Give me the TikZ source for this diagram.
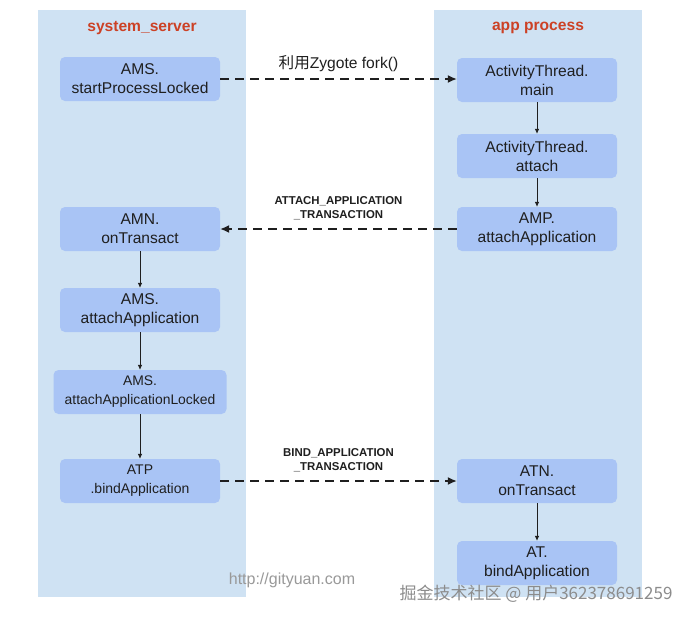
\documentclass[tikz,border=0pt]{standalone}
\usepackage{fontspec}
\setmainfont{Liberation Sans}
\newfontfamily\cjk{Noto Sans CJK SC}
\usetikzlibrary{arrows.meta}
\definecolor{lane}{HTML}{CFE2F3}
\definecolor{callbox}{HTML}{A9C4F5}
\definecolor{lanetitle}{HTML}{CC4125}
\definecolor{inktext}{HTML}{1F1F1F}

\begin{document}
\begin{tikzpicture}[
  x=1pt, y=-1pt,
  font=\fontsize{15.6}{19}\selectfont,
  call/.style={fill=callbox, rounded corners=5pt, minimum width=160pt, minimum height=44pt, align=center, text=inktext, inner sep=2pt},
  title/.style={text=lanetitle, font=\fontsize{15.6}{18}\selectfont\bfseries},
  msg/.style={font=\fontsize{11.4}{14}\selectfont\bfseries, align=center, text=inktext},
  every edge/.style={draw, ->}
]
\useasboundingbox (0,0) rectangle (691,619);
\fill[white] (0,0) rectangle (691,619);

% the two processes
\fill[lane] (38,10) rectangle (246,597);
\fill[lane] (434,10) rectangle (642,597);
\node[title] (sys) at (142,28) {system\_server};
\node[title] (app) at (538,28) {app process};

% system_server side
\node[call] (startproc)  at (140,79)  {AMS.\\startProcessLocked};
\node[call] (amnontrans) at (140,229) {AMN.\\onTransact};
\node[call] (amsattach)  at (140,310) {AMS.\\attachApplication};
\node[call, minimum width=173pt, font=\fontsize{13.9}{19}\selectfont] (amslocked) at (140,392) {AMS.\\attachApplicationLocked};
\node[call, font=\fontsize{14}{19}\selectfont] (atpbind) at (140,481) {ATP\\.bindApplication};

% app process side
\node[call] (atmain)     at (537,80)  {ActivityThread.\\main};
\node[call] (atattach)   at (537,156) {ActivityThread.\\attach};
\node[call] (ampattach)  at (537,229) {AMP.\\attachApplication};
\node[call] (atnontrans) at (537,481) {ATN.\\onTransact};
\node[call] (atbind)     at (537,563) {AT.\\bindApplication};

\begin{scope}[every edge/.style={draw, line width=0.7pt, -{Latex[length=5pt, width=4.5pt]}, inktext}]
\draw (atmain) edge (atattach);
\draw (atattach) edge (ampattach);
\draw (amnontrans) edge (amsattach);
\draw (amsattach) edge (amslocked);
\draw (amslocked) edge (atpbind);
\draw (atnontrans) edge (atbind);
\end{scope}

\begin{scope}[every edge/.style={draw, line width=1.4pt, dash pattern=on 9pt off 6pt, -{Latex[length=9pt, width=8pt]}, inktext}]
\draw (startproc) edge node[above=3pt, text=inktext] {{\cjk 利用}Zygote fork()} (atmain.west |- startproc);
\draw (ampattach) edge node[msg, above=5pt] {ATTACH\_APPLICATION\\\_TRANSACTION} (amnontrans);
\draw (atpbind) edge node[msg, above=5pt] {BIND\_APPLICATION\\\_TRANSACTION} (atnontrans);
\end{scope}

% watermarks
\node[text=black!40, font=\fontsize{16}{18}\selectfont] (site) at (292,580) {http://gityuan.com};
\node[text=black!45, font=\fontsize{17}{18}\selectfont\cjk, anchor=east] (juejin) at (676,594) {掘金技术社区 @ 用户362378691259};
\end{tikzpicture}
\end{document}
